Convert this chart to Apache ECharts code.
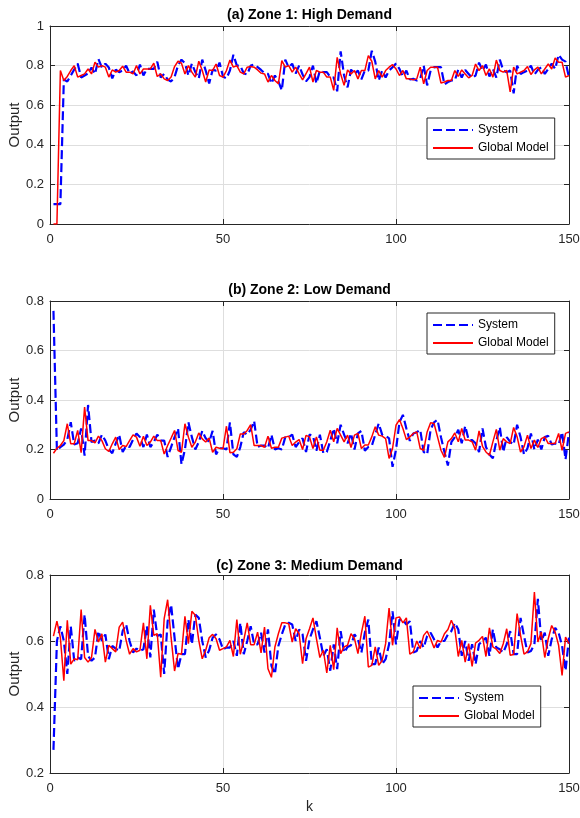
<!DOCTYPE html>
<html>
<head>
<meta charset="utf-8">
<script src="https://cdn.jsdelivr.net/npm/echarts@6/dist/echarts.min.js"></script>
<style>
html,body{margin:0;padding:0;background:#fff;}
#chart{width:580px;height:818px;}
</style>
</head>
<body>
<div id="chart"></div>
<script>
// ---- data ----
const titles = ['(a) Zone 1: High Demand', '(b) Zone 2: Low Demand', '(c) Zone 3: Medium Demand'];
const seriesNames = ['System', 'Global Model'];
const xTicks = [0, 50, 100, 150];
const yTicksA = [0, 0.2, 0.4, 0.6, 0.8, 1];
const yTicksB = [0, 0.2, 0.4, 0.6, 0.8];
const yTicksC = [0.2, 0.4, 0.6, 0.8];

const modelA = [
0, 0, 0.775, 0.725, 0.745, 0.775, 0.8, 0.742, 0.75, 0.758,
0.783, 0.758, 0.817, 0.792, 0.8, 0.792, 0.742, 0.778, 0.767, 0.775,
0.797, 0.767, 0.767, 0.758, 0.8, 0.758, 0.783, 0.783, 0.783, 0.812,
0.745, 0.758, 0.733, 0.725, 0.742, 0.795, 0.822, 0.812, 0.758, 0.8,
0.767, 0.742, 0.822, 0.775, 0.717, 0.778, 0.775, 0.808, 0.75, 0.742,
0.775, 0.828, 0.792, 0.8, 0.767, 0.758, 0.792, 0.795, 0.792, 0.778,
0.762, 0.758, 0.717, 0.75, 0.725, 0.708, 0.825, 0.792, 0.8, 0.767,
0.792, 0.758, 0.728, 0.76, 0.792, 0.717, 0.775, 0.767, 0.767, 0.742,
0.742, 0.675, 0.842, 0.758, 0.7, 0.778, 0.758, 0.775, 0.733, 0.775,
0.775, 0.85, 0.822, 0.733, 0.775, 0.742, 0.775, 0.792, 0.805, 0.783,
0.75, 0.775, 0.733, 0.733, 0.728, 0.733, 0.792, 0.708, 0.775, 0.792,
0.792, 0.792, 0.712, 0.717, 0.725, 0.725, 0.775, 0.745, 0.778, 0.758,
0.738, 0.75, 0.808, 0.775, 0.8, 0.75, 0.783, 0.742, 0.828, 0.775,
0.767, 0.775, 0.667, 0.792, 0.758, 0.767, 0.775, 0.795, 0.755, 0.778,
0.792, 0.758, 0.783, 0.808, 0.783, 0.838, 0.817, 0.817, 0.742, 0.75
];
const systemA = [
0.1, 0.1, 0.1, 0.73, 0.72, 0.75, 0.78, 0.81, 0.74, 0.75,
0.76, 0.79, 0.758, 0.833, 0.79, 0.81, 0.79, 0.735, 0.78, 0.767,
0.775, 0.8, 0.76, 0.77, 0.75, 0.805, 0.75, 0.783, 0.783, 0.783,
0.82, 0.74, 0.758, 0.73, 0.72, 0.742, 0.8, 0.83, 0.812, 0.75,
0.81, 0.767, 0.735, 0.83, 0.775, 0.71, 0.778, 0.775, 0.815, 0.745,
0.735, 0.775, 0.855, 0.8, 0.8, 0.76, 0.755, 0.8, 0.805, 0.792,
0.778, 0.762, 0.758, 0.71, 0.75, 0.72, 0.675, 0.83, 0.79, 0.81,
0.76, 0.8, 0.755, 0.72, 0.742, 0.8, 0.71, 0.775, 0.767, 0.767,
0.742, 0.74, 0.67, 0.872, 0.75, 0.69, 0.78, 0.758, 0.775, 0.73,
0.775, 0.775, 0.875, 0.82, 0.725, 0.775, 0.74, 0.775, 0.792, 0.81,
0.783, 0.745, 0.775, 0.73, 0.733, 0.725, 0.733, 0.8, 0.7, 0.775,
0.792, 0.792, 0.792, 0.705, 0.717, 0.725, 0.725, 0.78, 0.74, 0.778,
0.758, 0.738, 0.75, 0.815, 0.775, 0.805, 0.745, 0.783, 0.74, 0.83,
0.775, 0.767, 0.775, 0.66, 0.8, 0.758, 0.767, 0.775, 0.8, 0.755,
0.778, 0.792, 0.758, 0.783, 0.81, 0.783, 0.855, 0.83, 0.82, 0.74
];
const modelB = [
0.185, 0.205, 0.216, 0.236, 0.304, 0.223, 0.223, 0.277, 0.187, 0.371,
0.236, 0.236, 0.227, 0.254, 0.236, 0.203, 0.192, 0.223, 0.25, 0.2,
0.216, 0.212, 0.236, 0.259, 0.25, 0.213, 0.254, 0.216, 0.23, 0.254,
0.236, 0.236, 0.182, 0.216, 0.246, 0.277, 0.196, 0.189, 0.304, 0.25,
0.209, 0.23, 0.267, 0.243, 0.23, 0.246, 0.189, 0.209, 0.205, 0.203,
0.294, 0.187, 0.189, 0.203, 0.263, 0.263, 0.277, 0.3, 0.216, 0.216,
0.216, 0.209, 0.254, 0.205, 0.209, 0.209, 0.246, 0.25, 0.254, 0.216,
0.23, 0.24, 0.2, 0.257, 0.251, 0.204, 0.251, 0.197, 0.197, 0.231,
0.278, 0.231, 0.285, 0.258, 0.231, 0.258, 0.208, 0.258, 0.265, 0.204,
0.218, 0.218, 0.251, 0.292, 0.258, 0.254, 0.244, 0.164, 0.204, 0.298,
0.321, 0.285, 0.24, 0.251, 0.265, 0.271, 0.204, 0.197, 0.271, 0.308,
0.305, 0.251, 0.197, 0.168, 0.231, 0.244, 0.267, 0.231, 0.285, 0.238,
0.238, 0.231, 0.197, 0.275, 0.213, 0.19, 0.177, 0.231, 0.281, 0.197,
0.244, 0.231, 0.224, 0.289, 0.251, 0.19, 0.211, 0.258, 0.204, 0.238,
0.208, 0.244, 0.251, 0.224, 0.224, 0.224, 0.265, 0.197, 0.265, 0.271
];
const systemB = [
0.76, 0.195, 0.21, 0.22, 0.24, 0.31, 0.22, 0.225, 0.285, 0.175,
0.38, 0.23, 0.236, 0.225, 0.26, 0.236, 0.2, 0.185, 0.225, 0.26,
0.19, 0.215, 0.21, 0.24, 0.265, 0.25, 0.21, 0.26, 0.21, 0.23,
0.26, 0.236, 0.236, 0.17, 0.21, 0.25, 0.285, 0.14, 0.2, 0.31,
0.25, 0.2, 0.23, 0.275, 0.245, 0.23, 0.275, 0.18, 0.205, 0.205,
0.2, 0.31, 0.18, 0.17, 0.21, 0.27, 0.26, 0.28, 0.315, 0.21,
0.216, 0.216, 0.205, 0.26, 0.2, 0.205, 0.2, 0.25, 0.25, 0.26,
0.21, 0.23, 0.245, 0.19, 0.26, 0.255, 0.195, 0.26, 0.185, 0.19,
0.235, 0.285, 0.225, 0.3, 0.26, 0.225, 0.265, 0.2, 0.265, 0.275,
0.195, 0.21, 0.215, 0.26, 0.305, 0.26, 0.255, 0.245, 0.13, 0.2,
0.31, 0.34, 0.285, 0.235, 0.265, 0.27, 0.28, 0.19, 0.18, 0.28,
0.31, 0.32, 0.25, 0.19, 0.135, 0.23, 0.25, 0.28, 0.225, 0.295,
0.238, 0.238, 0.225, 0.19, 0.285, 0.21, 0.18, 0.165, 0.235, 0.29,
0.19, 0.25, 0.231, 0.22, 0.3, 0.25, 0.18, 0.205, 0.265, 0.2,
0.24, 0.2, 0.25, 0.255, 0.22, 0.224, 0.22, 0.27, 0.16, 0.27
];
const modelC = [
0.615, 0.66, 0.61, 0.48, 0.663, 0.53, 0.546, 0.543, 0.695, 0.55,
0.536, 0.55, 0.635, 0.597, 0.622, 0.536, 0.587, 0.577, 0.567, 0.642,
0.657, 0.602, 0.56, 0.577, 0.567, 0.572, 0.655, 0.546, 0.708, 0.617,
0.622, 0.49, 0.668, 0.725, 0.61, 0.509, 0.562, 0.56, 0.675, 0.592,
0.69, 0.678, 0.602, 0.546, 0.572, 0.61, 0.62, 0.607, 0.572, 0.577,
0.582, 0.602, 0.553, 0.665, 0.56, 0.602, 0.655, 0.589, 0.589, 0.627,
0.564, 0.642, 0.516, 0.49, 0.582, 0.622, 0.655, 0.655, 0.652, 0.597,
0.637, 0.622, 0.531, 0.607, 0.637, 0.67, 0.607, 0.55, 0.572, 0.503,
0.587, 0.513, 0.64, 0.562, 0.582, 0.587, 0.622, 0.607, 0.562, 0.624,
0.675, 0.521, 0.526, 0.582, 0.526, 0.541, 0.592, 0.7, 0.587, 0.67,
0.673, 0.655, 0.67, 0.56, 0.567, 0.6, 0.577, 0.617, 0.63, 0.607,
0.579, 0.602, 0.597, 0.622, 0.635, 0.663, 0.637, 0.553, 0.602, 0.536,
0.592, 0.523, 0.594, 0.602, 0.614, 0.553, 0.64, 0.582, 0.575, 0.562,
0.592, 0.637, 0.557, 0.559, 0.683, 0.617, 0.56, 0.567, 0.592, 0.748,
0.597, 0.627, 0.55, 0.607, 0.647, 0.627, 0.587, 0.496, 0.612, 0.592
];
const systemC = [
0.27, 0.6, 0.645, 0.6, 0.5, 0.645, 0.54, 0.55, 0.545, 0.68,
0.555, 0.54, 0.55, 0.63, 0.6, 0.62, 0.545, 0.585, 0.577, 0.57,
0.63, 0.65, 0.6, 0.565, 0.577, 0.57, 0.575, 0.645, 0.55, 0.695,
0.615, 0.62, 0.5, 0.66, 0.71, 0.61, 0.515, 0.56, 0.56, 0.665,
0.59, 0.68, 0.67, 0.6, 0.55, 0.572, 0.61, 0.62, 0.605, 0.575,
0.58, 0.58, 0.6, 0.555, 0.655, 0.56, 0.6, 0.645, 0.59, 0.59,
0.625, 0.565, 0.635, 0.525, 0.5, 0.585, 0.62, 0.65, 0.655, 0.65,
0.6, 0.635, 0.62, 0.54, 0.605, 0.635, 0.66, 0.61, 0.555, 0.575,
0.51, 0.59, 0.515, 0.63, 0.565, 0.582, 0.587, 0.62, 0.605, 0.565,
0.625, 0.665, 0.53, 0.53, 0.58, 0.53, 0.545, 0.59, 0.69, 0.59,
0.665, 0.665, 0.65, 0.66, 0.565, 0.57, 0.6, 0.58, 0.615, 0.625,
0.605, 0.58, 0.6, 0.6, 0.62, 0.63, 0.655, 0.635, 0.555, 0.6,
0.54, 0.59, 0.53, 0.59, 0.6, 0.61, 0.555, 0.635, 0.58, 0.575,
0.565, 0.59, 0.63, 0.56, 0.56, 0.67, 0.615, 0.565, 0.57, 0.59,
0.728, 0.6, 0.625, 0.555, 0.605, 0.64, 0.625, 0.585, 0.51, 0.61
];

// ---- chart ----
const FONT = '"Liberation Sans", Arial, sans-serif';
const AX = '#262626';
const GRIDC = '#dedede';
const panels = [
  { top: 26, sys: systemA, mod: modelA, yt: yTicksA, legendLeft: 427, legendTop: 118, titleTop: 7 },
  { top: 301, sys: systemB, mod: modelB, yt: yTicksB, legendLeft: 427, legendTop: 313, titleTop: 282 },
  { top: 575, sys: systemC, mod: modelC, yt: yTicksC, legendLeft: 413, legendTop: 686, titleTop: 558 }
];
const plotLeft = 50, plotRight = 569, plotH = 198;

const toPairs = arr => arr.map((v, i) => [i + 1, v]);

const option = {
  animation: false,
  backgroundColor: '#ffffff',
  textStyle: { fontFamily: FONT },
  title: [], grid: [], xAxis: [], yAxis: [], legend: [], series: []
};

panels.forEach((p, i) => {
  option.title.push({
    text: titles[i],
    left: (plotLeft + plotRight) / 2,
    textAlign: 'center',
    top: p.titleTop,
    padding: 0,
    textStyle: { fontSize: 14, fontWeight: 'bold', color: '#000', fontFamily: FONT, lineHeight: 16 }
  });
  option.grid.push({
    left: plotLeft, width: plotRight - plotLeft, top: p.top, height: plotH,
    containLabel: false, outerBoundsMode: 'none'
  });
  const yMin = p.yt[0], yMax = p.yt[p.yt.length - 1];
  option.xAxis.push({
    type: 'value', gridIndex: i, min: xTicks[0], max: xTicks[xTicks.length - 1], interval: 50,
    position: 'bottom',
    name: i === 2 ? 'k' : '', nameLocation: 'middle', nameGap: 27, nameMoveOverlap: false,
    nameTextStyle: { fontSize: 14, color: AX, fontFamily: FONT },
    axisLine: { show: true, onZero: false, lineStyle: { color: AX, width: 1 } },
    axisTick: { show: true, inside: true, length: 5, lineStyle: { color: AX } },
    axisLabel: { color: AX, fontSize: 13, margin: 9, fontFamily: FONT },
    splitLine: { show: true, lineStyle: { color: GRIDC, width: 1 } }
  });
  option.xAxis.push({
    type: 'value', gridIndex: i, min: xTicks[0], max: xTicks[xTicks.length - 1], interval: 50,
    position: 'top',
    axisLine: { show: true, onZero: false, lineStyle: { color: AX, width: 1 } },
    axisTick: { show: true, inside: true, length: 5, lineStyle: { color: AX } },
    axisLabel: { show: false },
    splitLine: { show: false }
  });
  option.yAxis.push({
    type: 'value', gridIndex: i, min: yMin, max: yMax, interval: 0.2,
    position: 'left',
    name: 'Output', nameLocation: 'middle', nameGap: 28, nameMoveOverlap: false,
    nameTextStyle: { fontSize: 15, color: AX, fontFamily: FONT },
    axisLine: { show: true, onZero: false, lineStyle: { color: AX, width: 1 } },
    axisTick: { show: true, inside: true, length: 5, lineStyle: { color: AX } },
    axisLabel: { color: AX, fontSize: 13, margin: 6, fontFamily: FONT },
    splitLine: { show: true, lineStyle: { color: GRIDC, width: 1 } }
  });
  option.yAxis.push({
    type: 'value', gridIndex: i, min: yMin, max: yMax, interval: 0.2,
    position: 'right',
    axisLine: { show: true, onZero: false, lineStyle: { color: AX, width: 1 } },
    axisTick: { show: true, inside: true, length: 5, lineStyle: { color: AX } },
    axisLabel: { show: false },
    splitLine: { show: false }
  });
  option.legend.push({
    data: seriesNames,
    orient: 'vertical',
    left: p.legendLeft, top: p.legendTop,
    itemWidth: 40, itemHeight: 10, itemGap: 6,
    padding: [6, 6, 5, 5],
    borderColor: AX, borderWidth: 1, borderRadius: 0,
    backgroundColor: '#ffffff',
    selectedMode: false,
    itemStyle: { opacity: 0 },
    textStyle: { fontSize: 12, color: '#000', fontFamily: FONT }
  });
  option.series.push({
    name: seriesNames[0], type: 'line', xAxisIndex: 2 * i, yAxisIndex: 2 * i,
    data: toPairs(p.sys), symbol: 'none', showSymbol: false,
    lineStyle: { color: '#0000ff', width: 2.2, type: [9, 4] },
    itemStyle: { color: '#0000ff' },
    z: 2
  });
  option.series.push({
    name: seriesNames[1], type: 'line', xAxisIndex: 2 * i, yAxisIndex: 2 * i,
    data: toPairs(p.mod), symbol: 'none', showSymbol: false,
    lineStyle: { color: '#ff0000', width: 1.5 },
    itemStyle: { color: '#ff0000' },
    z: 3
  });
});

const chart = echarts.init(document.getElementById('chart'), null, { renderer: 'canvas' });
chart.setOption(option);
</script>
</body>
</html>
